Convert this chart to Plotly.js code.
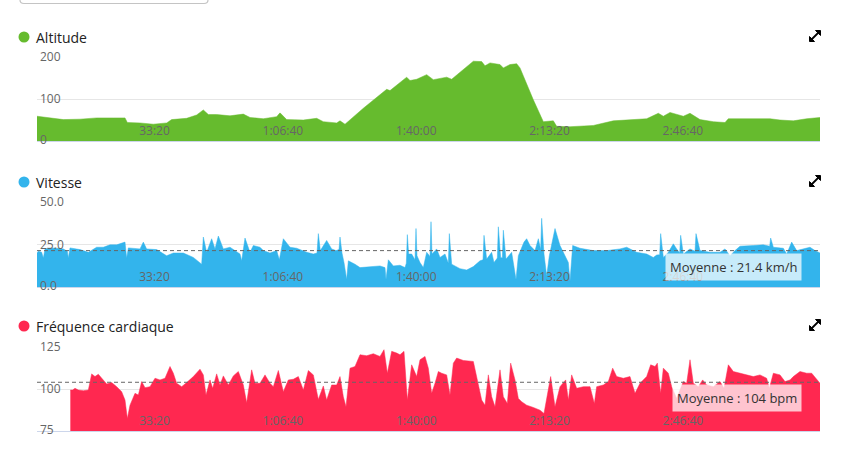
<!DOCTYPE html>
<html><head><meta charset="utf-8">
<script src="https://cdn.plot.ly/plotly-3.0.1.min.js"></script>
<style>html,body{margin:0;padding:0;background:#fff;}#chart{width:853px;height:455px;}</style>
</head><body><div id="chart"></div>
<script>
// ---- data (time in seconds) ----
const tickVals = [2000, 4000, 6000, 8000, 10000];
const tickText = ['33:20', '1:06:40', '1:40:00', '2:13:20', '2:46:40'];

const altT = [0,195,395,645,895,1145,1320,1355,1545,1745,1945,2020,2245,2395,2495,2570,2695,2895,3095,3195,3395,3595,3645,3745,3995,4195,4295,4495,4545,4620,4895,5245,5295,5545,5595,5695,5845,5945,6145,6220,6395,6545,6670,6720,6795,6945,6995,7095,7195,7245,7445,7595,7745,7795,7995,8345,8645,8895,9145,9320,9395,9495,9695,9795,9945,10145,10320,10370,10745,10995,11145,11345,11545,11745];
const altV = [59,55,51,52,55,55,55,44,43,40,43,51,54,62,74,63,63,60,64,56,53,58,67,51,50,54,46,43,48,40,78,123,120,152,144,147,158,146,152,147,170,190,189,179,186,182,174,182,184,174,98,46,48,35,34,37,48,51,53,66,59,68,59,66,51,46,44,53,54,53,50,48,53,56];

const spdT = [0,20,70,95,120,195,295,395,455,470,495,645,770,895,995,1095,1195,1320,1345,1370,1545,1595,1645,1795,1945,2045,2195,2345,2470,2495,2545,2620,2670,2720,2795,2895,3045,3070,3120,3195,3245,3345,3395,3495,3595,3635,3695,3795,3895,4045,4145,4200,4220,4250,4345,4420,4485,4530,4545,4575,4605,4645,4670,4770,4845,4995,5145,5220,5235,5270,5345,5445,5520,5540,5555,5575,5620,5670,5685,5700,5745,5795,5845,5895,5910,5925,5995,6045,6120,6170,6185,6220,6345,6445,6545,6645,6690,6705,6745,6820,6855,6905,6920,6955,6980,6995,7035,7120,7185,7220,7305,7345,7395,7470,7520,7555,7570,7605,7645,7685,7745,7770,7845,7920,7970,7995,8035,8145,8345,8545,8745,8845,8995,9145,9245,9295,9340,9355,9395,9470,9545,9595,9640,9655,9695,9795,9870,9885,9945,10095,10245,10320,10395,10470,10545,10745,10895,10990,11005,11045,11195,11245,11320,11395,11495,11595,11670,11745];
const spdV = [20,21,20.4,17,22.4,23,22.8,22.4,21,17,23,22,20.4,23.4,23.4,24.8,24.8,26.4,17,23,22.4,26.4,22.4,22,18.4,20,20,17.4,13.4,29.4,20.4,28.4,22.4,30,22.4,23.4,19.4,15.4,28.8,20.4,24.4,23.4,21.4,20,21.4,16,28.4,23.4,22.8,20.4,19.4,20,31.4,21.4,27.4,22.4,21.4,22,29.4,20,14.4,4.4,15.4,13.4,11.4,11.8,12.4,11.4,4.4,16,12.4,12.8,11.4,14,30.8,19.4,19.4,16,34.4,18.4,14.4,11.4,20.4,18,38.4,19.4,22.4,17.4,19.4,14,31.4,13.4,10.8,10,12,15.4,16,30.4,16.4,20.4,14.4,17,35.4,17.4,17,33.4,16.4,20.4,4.4,18.4,26.4,28.4,24.4,21.4,28.4,22,40.4,19.4,6.4,18.4,30.4,34.4,24.4,18.4,14.4,3.4,24.4,22.8,21.4,21.4,22.4,23.4,20.4,19.4,17.4,18.8,19,31.4,17.4,20.4,25.4,22.4,20,30.4,19.4,22.4,21,31.4,21.4,20.4,20.4,22.4,18.4,21.4,24,24.4,24.8,24,28.8,23.4,22.8,19.4,26.4,21.4,22.4,23.4,21.4,20];
const spdAvg = 21.4;

const hrT = [500,535,570,620,695,770,820,870,920,970,1045,1120,1195,1270,1320,1355,1395,1470,1520,1570,1620,1695,1770,1845,1920,1995,2045,2095,2170,2245,2345,2445,2495,2535,2595,2635,2695,2745,2795,2870,2945,3020,3095,3145,3220,3270,3345,3420,3495,3545,3620,3695,3770,3845,3920,3995,4070,4145,4220,4295,4345,4420,4495,4545,4595,4635,4695,4770,4845,4945,5045,5145,5205,5255,5320,5395,5445,5505,5555,5620,5695,5745,5820,5870,5920,5970,6020,6070,6145,6195,6245,6295,6395,6545,6595,6670,6720,6770,6820,6870,6945,6995,7055,7105,7170,7220,7270,7345,7445,7545,7605,7645,7705,7770,7845,7930,7970,8020,8095,8195,8295,8360,8395,8495,8570,8635,8695,8795,8895,8970,9045,9145,9205,9270,9305,9355,9395,9470,9520,9595,9695,9745,9795,9845,9920,9985,10045,10145,10245,10305,10370,10445,10545,10645,10745,10845,10945,10985,11045,11145,11220,11295,11345,11445,11545,11620,11695,11745];
const hrV = [99.4,99.4,100.4,99.4,99,99.4,109,107.4,108.8,106.4,103,103.8,101.4,98.4,93.4,82.4,90.4,97.4,96.4,104.4,100.8,101.4,106.4,105.4,106.4,113.4,109.4,103.4,101.4,103.8,107.4,111.8,108.4,96.4,105.4,100.4,109,102.4,107.8,102.4,107.8,110.4,102.4,91.8,111.4,103.4,103.4,108.4,103.4,101.4,111,98.4,105.4,105.8,107.4,99.4,111,108.4,93.8,101.8,93.4,102.4,102.4,107.4,95.4,89.4,112.4,113.4,120.4,119.8,121,119.4,123.4,109.4,122.4,121.4,120.4,122.4,93.4,114.4,107.4,117.4,119.4,112.4,97.4,103.4,110.4,109.4,108.4,96.4,115.4,118.4,117,116.4,107.4,93.4,90.4,108.4,95.4,89.4,111.4,95.4,91.4,115.4,105.4,94.4,92.4,90.4,89,87.4,85.4,93.4,107.4,89.4,101.4,105.4,93.4,108.4,100.4,101.4,101.4,91.4,101.4,102.4,104.4,112.4,107.4,106.4,107.4,97.4,103.4,107.4,114.4,113.4,115.4,97.4,112.4,109.4,101.4,94.4,104.4,103.4,117.4,103.4,101.4,105.4,102.4,101.4,104.4,100.4,114.4,110.4,109.4,108.4,107.4,108.4,106.4,100.4,109.4,108.4,104.4,105.4,107.4,110.4,109.4,109.4,105.4,103.4];
const hrAvg = 104;

const titles = ['Altitude', 'Vitesse', 'Fréquence cardiaque'];
const colors = ['#66bb2e', '#33b4ec', '#ff2850'];
const avgLabels = ['Moyenne : 21.4 km/h', 'Moyenne : 104 bpm'];
const altTicks = [0, 100, 200], altTickText = ['0', '100', '200'];
const spdTicks = [0, 25, 50], spdTickText = ['0.0', '25.0', '50.0'];
const hrTicks = [75, 100, 125], hrTickText = ['75', '100', '125'];

// ---- layout helpers (pixel -> paper) ----
const W = 853, H = 455, ML = 37, MR = 33;
const PW = W - ML - MR;
const px = x => (x - ML) / PW;
const py = y => 1 - y / H;
const FONT = 'Open Sans, sans-serif';
const TICKFONT = {family: FONT, size: 12, color: '#666'};

function trace(t, v, c, ax) {
  return {x: t, y: v, type: 'scatter', mode: 'lines', fill: 'tozeroy', fillcolor: c,
    line: {color: c, width: 0.5}, xaxis: 'x' + ax, yaxis: 'y' + ax, hoverinfo: 'skip'};
}
function xax(anchor) {
  return {domain: [0, 1], anchor: anchor, range: [0, 11745], tickmode: 'array', tickvals: tickVals, ticktext: tickText,
    ticklabelposition: 'inside left', ticks: '', showgrid: false, zeroline: false, showline: true,
    linecolor: '#ccd6eb', linewidth: 1, tickfont: TICKFONT, fixedrange: true};
}
function yax(anchor, top, bottom, range, vals, text) {
  // lowest label drawn as an annotation (plotly hides it at the corner)
  return {domain: [py(bottom), py(top)], anchor: anchor, range: range, tickmode: 'array',
    tickvals: vals, ticktext: text.map((s, i) => i === 0 ? ' ' : s),
    ticklabelposition: 'inside', ticklabeloverflow: 'allow', ticks: '', showgrid: true, gridcolor: '#e6e6e6',
    zeroline: false, showline: false, tickfont: TICKFONT, fixedrange: true};
}

const data = [
  trace(altT, altV, colors[0], ''),
  trace(spdT, spdV, colors[1], '2'),
  trace(hrT, hrV, colors[2], '3')
];

const titleY = [37, 182, 326];
const shapes = [];
const annotations = [];
titles.forEach((t, i) => {
  shapes.push({type: 'circle', xref: 'paper', yref: 'paper', xsizemode: 'pixel', ysizemode: 'pixel',
    xanchor: px(24), yanchor: py(titleY[i]), x0: -5.5, x1: 5.5, y0: -5.5, y1: 5.5,
    fillcolor: colors[i], line: {width: 0}});
  annotations.push({xref: 'paper', yref: 'paper', x: px(34), y: py(titleY[i]), xanchor: 'left', yanchor: 'middle',
    text: t, showarrow: false, font: {family: FONT, size: 14, color: '#222'}});
  // expand icon
  const cx = 815, cy = titleY[i] - 1;
  const P = (x, y) => px(x) + ',' + py(y);
  shapes.push({type: 'path', xref: 'paper', yref: 'paper',
    path: 'M' + P(cx - 3.5, cy + 3.5) + 'L' + P(cx + 3.5, cy - 3.5), line: {color: '#000', width: 1.8}});
  shapes.push({type: 'path', xref: 'paper', yref: 'paper',
    path: 'M' + P(cx + 5.5, cy - 5.5) + 'L' + P(cx + 0.5, cy - 5.5) + 'L' + P(cx + 5.5, cy - 0.5) + 'Z',
    fillcolor: '#000', line: {color: '#000', width: 1}});
  shapes.push({type: 'path', xref: 'paper', yref: 'paper',
    path: 'M' + P(cx - 5.5, cy + 5.5) + 'L' + P(cx - 0.5, cy + 5.5) + 'L' + P(cx - 5.5, cy + 0.5) + 'Z',
    fillcolor: '#000', line: {color: '#000', width: 1}});
});

// lowest y tick labels
[['y', altTicks[0], altTickText[0]], ['y2', spdTicks[0], spdTickText[0]], ['y3', hrTicks[0], hrTickText[0]]].forEach(b => {
  annotations.push({xref: 'paper', yref: b[0], x: px(38), y: b[1], xanchor: 'left', yanchor: 'middle', yshift: 2,
    text: b[2], showarrow: false, font: TICKFONT});
});

// average lines
[[spdAvg, 'y2', 'x2 domain'], [hrAvg, 'y3', 'x3 domain']].forEach((a, i) => {
  shapes.push({type: 'line', xref: a[2], yref: a[1], x0: 0, x1: 1, y0: a[0], y1: a[0],
    line: {color: '#666', width: 1, dash: '4px,3px'}});
  annotations.push({xref: a[2], yref: a[1], x: px(802), y: a[0], xanchor: 'right', yanchor: 'top', yshift: -2,
    text: avgLabels[i], showarrow: false, bgcolor: 'rgba(255,255,255,0.73)',
    borderpad: 4, font: {family: FONT, size: 13, color: '#333'}});
});

// partial input box at the top
(function () {
  const P = (x, y) => px(x) + ',' + py(y);
  shapes.push({type: 'path', xref: 'paper', yref: 'paper',
    path: 'M' + P(20, -4) + 'L' + P(20, 0) + 'Q' + P(20, 3.5) + ' ' + P(24, 3.5) + 'L' + P(204, 3.5) +
      'Q' + P(208, 3.5) + ' ' + P(208, 0) + 'L' + P(208, -4),
    line: {color: '#c4c4c4', width: 1.2}});
})();

const layout = {
  width: W, height: H, margin: {l: ML, r: MR, t: 0, b: 0},
  paper_bgcolor: '#fff', plot_bgcolor: '#fff', showlegend: false, hovermode: false,
  font: {family: FONT},
  xaxis: xax('y'), xaxis2: xax('y2'), xaxis3: xax('y3'),
  yaxis: yax('x', 57, 141, [0, 200], altTicks, altTickText),
  yaxis2: yax('x2', 202, 287, [0, 50], spdTicks, spdTickText),
  yaxis3: yax('x3', 347, 431, [75, 125], hrTicks, hrTickText),
  shapes: shapes, annotations: annotations
};

Plotly.newPlot('chart', data, layout, {staticPlot: true, displayModeBar: false});
</script>
</body></html>
